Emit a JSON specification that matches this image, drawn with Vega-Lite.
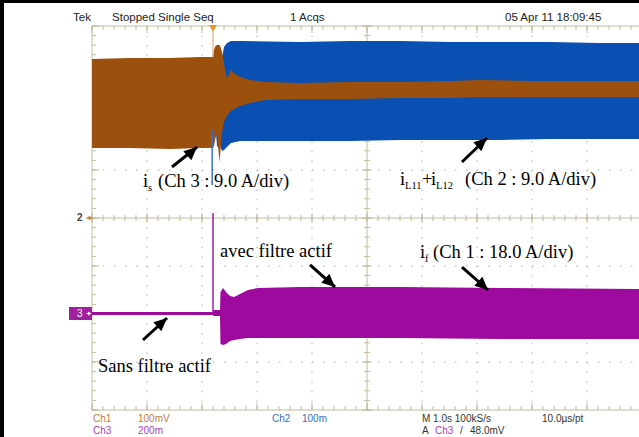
{
"$schema": "https://vega.github.io/schema/vega-lite/v6.json",
"width": 547, "height": 384,
"autosize": {"type": "none"},
"padding": {"left": 92, "top": 26, "right": 0, "bottom": 27},
"background": "white",
"config": {"view": {"stroke": null}, "axis": {"disable": true}},
"datasets": {
"xminor": [{"t":-2.2},{"t":-2},{"t":-1.8},{"t":-1.6},{"t":-1.4},{"t":-1.2},{"t":-1},{"t":-0.8},{"t":-0.6},{"t":-0.4},{"t":-0.2},{"t":0},{"t":0.2},{"t":0.4},{"t":0.6},{"t":0.8},{"t":1},{"t":1.2},{"t":1.4},{"t":1.6},{"t":1.8},{"t":2},{"t":2.2},{"t":2.4},{"t":2.6},{"t":2.8},{"t":3},{"t":3.2},{"t":3.4},{"t":3.6},{"t":3.8},{"t":4},{"t":4.2},{"t":4.4},{"t":4.6},{"t":4.8},{"t":5},{"t":5.2},{"t":5.4},{"t":5.6},{"t":5.8},{"t":6},{"t":6.2},{"t":6.4},{"t":6.6},{"t":6.8},{"t":7},{"t":7.2},{"t":7.4},{"t":7.6}],
"xmajor": [{"t":-2.2},{"t":-1.2},{"t":-0.2},{"t":0.8},{"t":1.8},{"t":2.8},{"t":3.8},{"t":4.8},{"t":5.8},{"t":6.8}],
"xgrid": [{"t":-1.2},{"t":-0.2},{"t":0.8},{"t":1.8},{"t":3.8},{"t":4.8},{"t":5.8},{"t":6.8}],
"yminor": [{"v":-4},{"v":-3.8},{"v":-3.6},{"v":-3.4},{"v":-3.2},{"v":-3},{"v":-2.8},{"v":-2.6},{"v":-2.4},{"v":-2.2},{"v":-2},{"v":-1.8},{"v":-1.6},{"v":-1.4},{"v":-1.2},{"v":-1},{"v":-0.8},{"v":-0.6},{"v":-0.4},{"v":-0.2},{"v":0},{"v":0.2},{"v":0.4},{"v":0.6},{"v":0.8},{"v":1},{"v":1.2},{"v":1.4},{"v":1.6},{"v":1.8},{"v":2},{"v":2.2},{"v":2.4},{"v":2.6},{"v":2.8},{"v":3},{"v":3.2},{"v":3.4},{"v":3.6},{"v":3.8},{"v":4}],
"ymajor": [{"v":-4},{"v":-3},{"v":-2},{"v":-1},{"v":0},{"v":1},{"v":2},{"v":3},{"v":4}],
"ygrid": [{"v":-3},{"v":-2},{"v":-1},{"v":1},{"v":2},{"v":3}],
"hlines": [{"v":4},{"v":0},{"v":-4}],
"vlines": [{"t":-2.2},{"t":2.8}],
"wblue": [
{"t":0.0545,"hi":2.458,"lo":1.771},{"t":0.0727,"hi":2.458,"lo":1.5},{"t":0.1,"hi":2.458,"lo":1.458},{"t":0.127,"hi":2.458,"lo":1.625},
{"t":0.145,"hi":3.083,"lo":1.458},{"t":0.164,"hi":3.333,"lo":1.396},{"t":0.2,"hi":3.5625,"lo":1.417},{"t":0.2545,"hi":3.646,"lo":1.479},
{"t":0.327,"hi":3.6875,"lo":1.5625},{"t":0.491,"hi":3.6875,"lo":1.604},{"t":1.582,"hi":3.667,"lo":1.604},{"t":2.491,"hi":3.6875,"lo":1.604},
{"t":3.4,"hi":3.6875,"lo":1.625},{"t":4.309,"hi":3.667,"lo":1.625},{"t":5.218,"hi":3.667,"lo":1.625},{"t":6.127,"hi":3.667,"lo":1.646},
{"t":7.036,"hi":3.646,"lo":1.646},{"t":7.745,"hi":3.646,"lo":1.646}],
"wbrown": [
{"t":-2.2,"hi":3.3125,"lo":1.458},{"t":-1.509,"hi":3.333,"lo":1.458},{"t":-0.782,"hi":3.333,"lo":1.4375},{"t":-0.236,"hi":3.354,"lo":1.458},
{"t":0,"hi":3.354,"lo":1.458},{"t":0.018,"hi":3.5,"lo":1.5},{"t":0.045,"hi":3.583,"lo":1.667},{"t":0.073,"hi":3.604,"lo":1.75},
{"t":0.1,"hi":3.604,"lo":1.4},{"t":0.118,"hi":3.604,"lo":1.167},{"t":0.136,"hi":3.5625,"lo":1.4},{"t":0.164,"hi":3.458,"lo":1.771},
{"t":0.191,"hi":3.292,"lo":1.958},{"t":0.218,"hi":3.083,"lo":2.0625},{"t":0.2545,"hi":2.917,"lo":2.125},{"t":0.291,"hi":2.979,"lo":2.1875},
{"t":0.327,"hi":3.083,"lo":2.229},{"t":0.382,"hi":3.021,"lo":2.271},{"t":0.491,"hi":2.9375,"lo":2.333},{"t":0.673,"hi":2.875,"lo":2.396},
{"t":0.945,"hi":2.833,"lo":2.458},{"t":1.582,"hi":2.8125,"lo":2.479},{"t":2.491,"hi":2.833,"lo":2.479},{"t":3.4,"hi":2.833,"lo":2.5},
{"t":4.309,"hi":2.854,"lo":2.5},{"t":4.855,"hi":2.875,"lo":2.521},{"t":5.764,"hi":2.854,"lo":2.521},{"t":6.673,"hi":2.854,"lo":2.521},
{"t":7.745,"hi":2.854,"lo":2.521}],
"wpurple": [
{"t":-2.2,"hi":-1.958,"lo":-2.021},{"t":0,"hi":-1.958,"lo":-2.021},{"t":0.009,"hi":-1.917,"lo":-2.042},{"t":0.127,"hi":-1.917,"lo":-2.042},
{"t":0.136,"hi":-1.542,"lo":-2.625},{"t":0.182,"hi":-1.458,"lo":-2.646},{"t":0.236,"hi":-1.542,"lo":-2.625},{"t":0.309,"hi":-1.625,"lo":-2.5625},
{"t":0.382,"hi":-1.646,"lo":-2.542},{"t":0.491,"hi":-1.583,"lo":-2.521},{"t":0.636,"hi":-1.5,"lo":-2.5},{"t":0.818,"hi":-1.458,"lo":-2.5},
{"t":1.582,"hi":-1.4375,"lo":-2.5},{"t":3.4,"hi":-1.4375,"lo":-2.5},{"t":5.218,"hi":-1.458,"lo":-2.521},{"t":7.745,"hi":-1.479,"lo":-2.521}],
"arrows": [
{"t1":-0.745,"v1":1.0625,"t2":-0.291,"v2":1.479,"dir":"ne"},
{"t1":4.527,"v1":1.167,"t2":4.982,"v2":1.667,"dir":"ne"},
{"t1":4.527,"v1":-1.021,"t2":5.0,"v2":-1.5,"dir":"se"},
{"t1":1.764,"v1":-0.979,"t2":2.218,"v2":-1.4375,"dir":"se"},
{"t1":-1.273,"v1":-2.542,"t2":-0.836,"v2":-2.083,"dir":"ne"}],
"notes": [
{"t":-1.273,"v":0.646,"text":"i"},{"t":-1.0,"v":0.646,"text":"(Ch 3 : 9.0 A/div)"},
{"t":3.4,"v":0.6875,"text":"i"},{"t":3.8,"v":0.6875,"text":"+"},{"t":3.964,"v":0.6875,"text":"i"},{"t":4.582,"v":0.6875,"text":"(Ch 2 : 9.0 A/div)"},
{"t":3.764,"v":-0.833,"text":"i"},{"t":4.0,"v":-0.833,"text":"(Ch 1 : 18.0 A/div)"},
{"t":0.127,"v":-0.8125,"text":"avec filtre actif"},{"t":-2.091,"v":-3.208,"text":"Sans filtre actif"}],
"subs": [
{"t":-1.182,"v":0.5625,"text":"s"},{"t":3.491,"v":0.604,"text":"L11"},{"t":4.055,"v":0.604,"text":"L12"},{"t":3.855,"v":-0.917,"text":"f"}],
"header": [
{"t":-2.545,"v":4.104,"text":"Tek"},{"t":-1.836,"v":4.104,"text":"Stopped  Single Seq"},{"t":1.4,"v":4.104,"text":"1 Acqs"},{"t":5.309,"v":4.104,"text":"05 Apr 11 18:09:45"}],
"footer": [
{"t":-2.182,"v":-4.26,"text":"Ch1","ch":"1"},{"t":-1.364,"v":-4.26,"text":"100mV","ch":"1"},
{"t":1.073,"v":-4.26,"text":"Ch2","ch":"2"},{"t":1.618,"v":-4.26,"text":"100m","ch":"2"},
{"t":3.8,"v":-4.26,"text":"M 1.0s 100kS/s","ch":"0"},{"t":5.982,"v":-4.26,"text":"10.0µs/pt","ch":"0"},
{"t":-2.182,"v":-4.49,"text":"Ch3","ch":"3"},{"t":-1.364,"v":-4.49,"text":"200m","ch":"3"},
{"t":3.8,"v":-4.49,"text":"A","ch":"0"},{"t":4.036,"v":-4.49,"text":"Ch3","ch":"3"},
{"t":4.491,"v":-4.49,"text":"/","ch":"0"},{"t":4.673,"v":-4.49,"text":"48.0mV","ch":"0"}]
},
"layer": [
{"data":{"name":"xgrid"},"mark":{"type":"rule","color":"#b0b0b0","strokeDash":[1.5,8.1],"strokeWidth":1},
 "encoding":{"x":{"field":"t","type":"quantitative","scale":{"domain":[-2.2,7.745],"nice":false,"zero":false}},"y":{"datum":4},"y2":{"datum":-4}}},
{"data":{"name":"ygrid"},"mark":{"type":"rule","color":"#b0b0b0","strokeDash":[1.5,9.5],"strokeWidth":1},
 "encoding":{"y":{"field":"v","type":"quantitative","scale":{"domain":[-4,4],"nice":false,"zero":false}},"x":{"datum":-2.2},"x2":{"datum":7.745}}},
{"data":{"name":"hlines"},"mark":{"type":"rule","color":"#c2bb9e","strokeWidth":1},
 "encoding":{"y":{"field":"v","type":"quantitative","scale":{"domain":[-4,4],"nice":false,"zero":false}},"x":{"datum":-2.2},"x2":{"datum":7.745}}},
{"data":{"name":"vlines"},"mark":{"type":"rule","color":"#c2bb9e","strokeWidth":1},
 "encoding":{"x":{"field":"t","type":"quantitative","scale":{"domain":[-2.2,7.745],"nice":false,"zero":false}},"y":{"datum":4},"y2":{"datum":-4}}},
{"data":{"name":"xminor"},"mark":{"type":"rule","color":"#c2bb9e","strokeWidth":1},
 "encoding":{"x":{"field":"t","type":"quantitative"},"y":{"datum":4},"y2":{"datum":3.917}}},
{"data":{"name":"xmajor"},"mark":{"type":"rule","color":"#c2bb9e","strokeWidth":1},
 "encoding":{"x":{"field":"t","type":"quantitative"},"y":{"datum":4},"y2":{"datum":3.854}}},
{"data":{"name":"xminor"},"mark":{"type":"rule","color":"#c2bb9e","strokeWidth":1},
 "encoding":{"x":{"field":"t","type":"quantitative"},"y":{"datum":-4},"y2":{"datum":-3.917}}},
{"data":{"name":"xmajor"},"mark":{"type":"rule","color":"#c2bb9e","strokeWidth":1},
 "encoding":{"x":{"field":"t","type":"quantitative"},"y":{"datum":-4},"y2":{"datum":-3.854}}},
{"data":{"name":"xminor"},"mark":{"type":"rule","color":"#c2bb9e","strokeWidth":1},
 "encoding":{"x":{"field":"t","type":"quantitative"},"y":{"datum":0.0625},"y2":{"datum":-0.0625}}},
{"data":{"name":"xmajor"},"mark":{"type":"rule","color":"#c2bb9e","strokeWidth":1},
 "encoding":{"x":{"field":"t","type":"quantitative"},"y":{"datum":0.104},"y2":{"datum":-0.104}}},
{"data":{"name":"yminor"},"mark":{"type":"rule","color":"#c2bb9e","strokeWidth":1},
 "encoding":{"y":{"field":"v","type":"quantitative"},"x":{"datum":-2.2},"x2":{"datum":-2.127}}},
{"data":{"name":"ymajor"},"mark":{"type":"rule","color":"#c2bb9e","strokeWidth":1},
 "encoding":{"y":{"field":"v","type":"quantitative"},"x":{"datum":-2.2},"x2":{"datum":-2.073}}},
{"data":{"name":"yminor"},"mark":{"type":"rule","color":"#c2bb9e","strokeWidth":1},
 "encoding":{"y":{"field":"v","type":"quantitative"},"x":{"datum":2.745},"x2":{"datum":2.855}}},
{"data":{"name":"ymajor"},"mark":{"type":"rule","color":"#c2bb9e","strokeWidth":1},
 "encoding":{"y":{"field":"v","type":"quantitative"},"x":{"datum":2.709},"x2":{"datum":2.891}}},
{"data":{"name":"wblue"},"mark":{"type":"area","color":"#0a4fb2","opacity":1},
 "encoding":{"x":{"field":"t","type":"quantitative"},"y":{"field":"hi","type":"quantitative"},"y2":{"field":"lo"}}},
{"data":{"name":"wbrown"},"mark":{"type":"area","color":"#9c500e","opacity":1},
 "encoding":{"x":{"field":"t","type":"quantitative"},"y":{"field":"hi","type":"quantitative"},"y2":{"field":"lo"}}},
{"data":{"name":"wpurple"},"mark":{"type":"area","color":"#9e0a9e","opacity":1},
 "encoding":{"x":{"field":"t","type":"quantitative"},"y":{"field":"hi","type":"quantitative"},"y2":{"field":"lo"}}},
{"data":{"values":[{"t":0,"v":-1.99,"v2":0.104}]},"mark":{"type":"rule","color":"#a020a0","strokeWidth":1.5},
 "encoding":{"x":{"field":"t","type":"quantitative"},"y":{"field":"v","type":"quantitative"},"y2":{"field":"v2"}}},
{"data":{"values":[{"t":-0.015,"v":1.833,"v2":0.6875}]},"mark":{"type":"rule","color":"#3a72c8","strokeWidth":1.5},
 "encoding":{"x":{"field":"t","type":"quantitative"},"y":{"field":"v","type":"quantitative"},"y2":{"field":"v2"}}},
{"data":{"values":[{"t":0,"v":4,"v2":3.35}]},"mark":{"type":"rule","color":"#e0a060","strokeWidth":1},
 "encoding":{"x":{"field":"t","type":"quantitative"},"y":{"field":"v","type":"quantitative"},"y2":{"field":"v2"}}},
{"data":{"values":[{"t":0,"v":3.95}]},"mark":{"type":"point","shape":"triangle-down","filled":true,"color":"#e8902a","opacity":1,"size":60},
 "encoding":{"x":{"field":"t","type":"quantitative"},"y":{"field":"v","type":"quantitative"}}},
{"data":{"name":"arrows"},"mark":{"type":"rule","color":"black","strokeWidth":3},
 "encoding":{"x":{"field":"t1","type":"quantitative"},"y":{"field":"v1","type":"quantitative"},"x2":{"field":"t2"},"y2":{"field":"v2"}}},
{"data":{"name":"arrows"},"transform":[{"filter":"datum.dir === 'ne'"}],
 "mark":{"type":"point","shape":"M0,0L0.6,1.3L-0.6,1.3Z","filled":true,"color":"black","opacity":1,"size":400,"angle":48,"strokeWidth":0},
 "encoding":{"x":{"field":"t2","type":"quantitative"},"y":{"field":"v2","type":"quantitative"}}},
{"data":{"name":"arrows"},"transform":[{"filter":"datum.dir === 'se'"}],
 "mark":{"type":"point","shape":"M0,0L0.6,1.3L-0.6,1.3Z","filled":true,"color":"black","opacity":1,"size":400,"angle":132,"strokeWidth":0},
 "encoding":{"x":{"field":"t2","type":"quantitative"},"y":{"field":"v2","type":"quantitative"}}},
{"data":{"name":"notes"},"mark":{"type":"text","align":"left","baseline":"alphabetic","font":"Liberation Serif","fontSize":18.5,"color":"black"},
 "encoding":{"x":{"field":"t","type":"quantitative"},"y":{"field":"v","type":"quantitative"},"text":{"field":"text"}}},
{"data":{"name":"subs"},"mark":{"type":"text","align":"left","baseline":"alphabetic","font":"Liberation Serif","fontSize":10.5,"color":"black"},
 "encoding":{"x":{"field":"t","type":"quantitative"},"y":{"field":"v","type":"quantitative"},"text":{"field":"text"}}},
{"data":{"name":"header"},"mark":{"type":"text","align":"left","baseline":"alphabetic","font":"Liberation Sans","fontSize":11.5,"color":"#222222"},
 "encoding":{"x":{"field":"t","type":"quantitative"},"y":{"field":"v","type":"quantitative"},"text":{"field":"text"}}},
{"data":{"name":"footer"},"mark":{"type":"text","align":"left","baseline":"alphabetic","font":"Liberation Sans","fontSize":10},
 "encoding":{"x":{"field":"t","type":"quantitative"},"y":{"field":"v","type":"quantitative"},"text":{"field":"text"},
  "color":{"field":"ch","type":"nominal","legend":null,"scale":{"domain":["0","1","2","3"],"range":["#333333","#c07a38","#3a6ec0","#b040b0"]}}}},
{"data":{"values":[{"t":-2.473,"v":0,"text":"2"}]},"mark":{"type":"text","align":"left","baseline":"middle","font":"Liberation Sans","fontSize":10,"fontWeight":"bold","color":"#444444"},
 "encoding":{"x":{"field":"t","type":"quantitative"},"y":{"field":"v","type":"quantitative"},"text":{"field":"text"}}},
{"data":{"values":[{"t":-2.3,"t2":-2.22,"v":0}]},"mark":{"type":"rule","color":"#d07a20","strokeWidth":1.5},
 "encoding":{"x":{"field":"t","type":"quantitative"},"x2":{"field":"t2"},"y":{"field":"v","type":"quantitative"}}},
{"data":{"values":[{"t":-2.225,"v":0}]},"mark":{"type":"point","shape":"triangle-right","filled":true,"color":"#d07a20","opacity":1,"size":20},
 "encoding":{"x":{"field":"t","type":"quantitative"},"y":{"field":"v","type":"quantitative"}}},
{"data":{"values":[{"t":-2.618,"t2":-2.2,"v":-1.854,"v2":-2.125}]},"mark":{"type":"rect","color":"#a020a0"},
 "encoding":{"x":{"field":"t","type":"quantitative"},"x2":{"field":"t2"},"y":{"field":"v","type":"quantitative"},"y2":{"field":"v2"}}},
{"data":{"values":[{"t":-2.473,"v":-1.99,"text":"3"}]},"mark":{"type":"text","align":"left","baseline":"middle","font":"Liberation Sans","fontSize":10,"color":"white"},
 "encoding":{"x":{"field":"t","type":"quantitative"},"y":{"field":"v","type":"quantitative"},"text":{"field":"text"}}},
{"data":{"values":[{"t":-2.3,"t2":-2.24,"v":-1.99}]},"mark":{"type":"rule","color":"white","strokeWidth":1.2},
 "encoding":{"x":{"field":"t","type":"quantitative"},"x2":{"field":"t2"},"y":{"field":"v","type":"quantitative"}}},
{"data":{"values":[{"t":-2.24,"v":-1.99}]},"mark":{"type":"point","shape":"triangle-right","filled":true,"color":"white","opacity":1,"size":15},
 "encoding":{"x":{"field":"t","type":"quantitative"},"y":{"field":"v","type":"quantitative"}}},
{"data":{"values":[{"t":-3.836,"v":4.6,"v2":-4.6}]},"mark":{"type":"rule","color":"black","strokeWidth":4},
 "encoding":{"x":{"field":"t","type":"quantitative"},"y":{"field":"v","type":"quantitative"},"y2":{"field":"v2"}}},
{"data":{"values":[{"t":-3.9,"t2":7.8,"v":4.51}]},"mark":{"type":"rule","color":"black","strokeWidth":3},
 "encoding":{"x":{"field":"t","type":"quantitative"},"x2":{"field":"t2"},"y":{"field":"v","type":"quantitative"}}}
]
}
